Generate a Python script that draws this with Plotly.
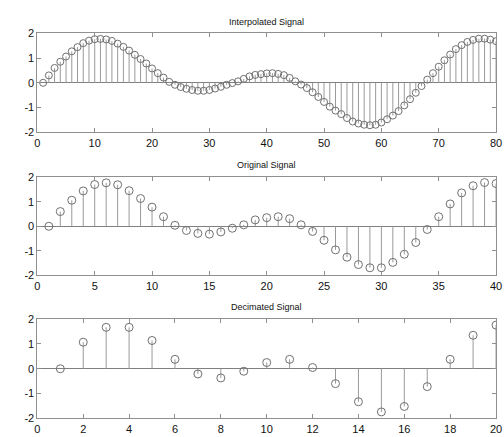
import plotly.graph_objects as go

interp_x = list(range(1, 81))
interp_y = [0, 0.3, 0.6, 0.85, 1.06, 1.27, 1.44, 1.6, 1.7, 1.76,
            1.77, 1.75, 1.69, 1.58, 1.45, 1.3, 1.13, 0.96, 0.78, 0.58,
            0.39, 0.21, 0.04, -0.08, -0.17, -0.24, -0.29, -0.32, -0.32, -0.29,
            -0.23, -0.16, -0.08, -0.01, 0.06, 0.16, 0.26, 0.32, 0.35, 0.38,
            0.39, 0.36, 0.31, 0.2, 0.06, -0.07, -0.21, -0.38, -0.57, -0.77,
            -0.96, -1.12, -1.26, -1.42, -1.56, -1.64, -1.69, -1.71, -1.69, -1.6,
            -1.47, -1.32, -1.14, -0.91, -0.66, -0.4, -0.13, 0.13, 0.39, 0.65,
            0.91, 1.14, 1.36, 1.52, 1.65, 1.73, 1.78, 1.78, 1.74, 1.68]

orig_x = list(range(1, 41))
orig_y = [0, 0.6, 1.06, 1.44, 1.7, 1.77, 1.69, 1.45, 1.13, 0.78,
          0.39, 0.04, -0.17, -0.29, -0.32, -0.23, -0.08, 0.06, 0.26, 0.35,
          0.39, 0.31, 0.06, -0.21, -0.57, -0.96, -1.26, -1.56, -1.69, -1.69,
          -1.47, -1.14, -0.66, -0.13, 0.39, 0.91, 1.36, 1.65, 1.78, 1.74]

dec_x = list(range(1, 21))
dec_y = [0, 1.07, 1.67, 1.67, 1.14, 0.38, -0.21, -0.37, -0.1, 0.25,
         0.38, 0.05, -0.6, -1.33, -1.74, -1.52, -0.72, 0.38, 1.35, 1.76]

titles = ["Interpolated Signal", "Original Signal", "Decimated Signal"]
x_ticks = [[0, 10, 20, 30, 40, 50, 60, 70, 80],
           [0, 5, 10, 15, 20, 25, 30, 35, 40],
           [0, 2, 4, 6, 8, 10, 12, 14, 16, 18, 20]]
y_ticks = [-2, -1, 0, 1, 2]
y_tick_labels = ["-2", "-1", "0", "1", "2"]

W, H = 504, 437
xd = [35 / W, 502 / W]
ydoms = [[(H - 130) / H, (H - 28) / H],
         [(H - 277) / H, (H - 176) / H],
         [(H - 424) / H, (H - 322) / H]]
title_y = [16, 164, 309]

stem_col = "#9a9a9a"
base_col = "#808080"
mark_col = "#707070"
axis_col = "#909090"

fig = go.Figure()
datasets = [(interp_x, interp_y), (orig_x, orig_y), (dec_x, dec_y)]
for i, (xs, ys) in enumerate(datasets):
    sx, sy = [], []
    for a, b in zip(xs, ys):
        sx += [a, a, None]
        sy += [0, b, None]
    xa = "x" if i == 0 else f"x{i+1}"
    ya = "y" if i == 0 else f"y{i+1}"
    fig.add_trace(go.Scatter(x=sx, y=sy, mode="lines", xaxis=xa, yaxis=ya,
                             line=dict(color=stem_col, width=1), hoverinfo="skip",
                             showlegend=False))
    fig.add_trace(go.Scatter(x=xs, y=ys, mode="markers", xaxis=xa, yaxis=ya,
                             marker=dict(symbol="circle-open", size=7 if i == 0 else 8,
                                         color=mark_col, line=dict(width=1)),
                             showlegend=False))

layout = dict(width=W, height=H, margin=dict(l=0, r=0, t=0, b=0),
              paper_bgcolor="white", plot_bgcolor="white",
              font=dict(family="Liberation Sans, Arial", color="#111", size=11))
for i in range(3):
    xk = "xaxis" if i == 0 else f"xaxis{i+1}"
    yk = "yaxis" if i == 0 else f"yaxis{i+1}"
    ya = "y" if i == 0 else f"y{i+1}"
    xa = "x" if i == 0 else f"x{i+1}"
    layout[xk] = dict(domain=xd, anchor=ya, range=[x_ticks[i][0], x_ticks[i][-1]],
                      tickvals=x_ticks[i], ticktext=[str(v) for v in x_ticks[i]],
                      showgrid=False, zeroline=False, showline=True, linecolor=axis_col,
                      mirror="ticks", ticks="inside", ticklen=4, tickcolor=axis_col,
                      tickfont=dict(size=11), ticklabeloverflow="allow")
    layout[yk] = dict(domain=ydoms[i], anchor=xa, range=[-2, 2],
                      tickvals=y_ticks, ticktext=y_tick_labels,
                      showgrid=False, zeroline=True, zerolinecolor=base_col, zerolinewidth=1,
                      showline=True, linecolor=axis_col, mirror="ticks", ticks="inside",
                      ticklen=4, tickcolor=axis_col, tickfont=dict(size=11),
                      ticklabeloverflow="allow")
fig.update_layout(**layout)

for i, t in enumerate(titles):
    fig.add_annotation(text=t, xref="paper", yref="paper", x=(xd[0] + xd[1]) / 2,
                       y=(H - title_y[i]) / H, xanchor="center", yanchor="middle",
                       showarrow=False, font=dict(size=9, color="#111"))

fig.write_html("out.html")
